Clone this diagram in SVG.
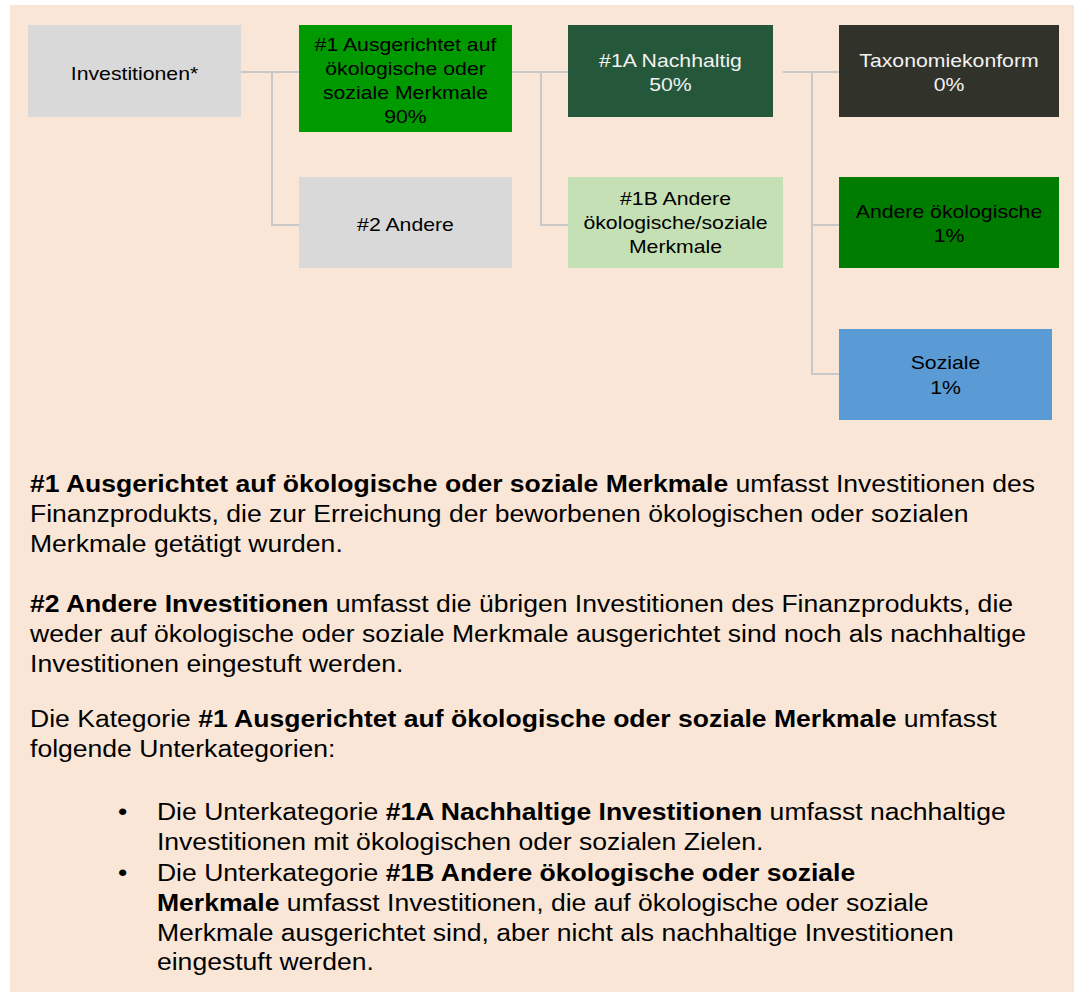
<svg xmlns="http://www.w3.org/2000/svg" width="1074" height="993" viewBox="0 0 1074 993">
  <style>
    .box-text { font-family: "Liberation Sans", Arial, sans-serif; font-size: 18.8px; text-anchor: middle; fill: #000; }
    .light { fill: #f2f2f2; }
    .body { font-family: "Liberation Sans", Arial, sans-serif; font-size: 23.5px; fill: #000; }
    .b { font-weight: bold; }
    .conn { fill: none; stroke: #c8c8c8; stroke-width: 2; }
  </style>
  <rect x="0" y="0" width="1074" height="993" fill="#ffffff"/>
  <rect x="10" y="5" width="1064" height="987" fill="#f9e6d6"/>

  <!-- connectors -->
  <g id="connectors" class="conn">
    <path d="M241,72 H299 M272,72 V225 H299"/>
    <path d="M512,72 H568 M541,72 V225 H568"/>
    <path d="M783,72 H839 M812,72 V374 H839 M812,225 H839"/>
  </g>

  <!-- nodes -->
  <g id="investitionen">
    <rect x="28" y="25" width="213" height="92" fill="#d9d9d9"/>
    <text class="box-text" transform="translate(134.5,80) scale(1.13,1)">Investitionen*</text>
  </g>
  <g id="n1-ausgerichtet">
    <rect x="299" y="25" width="213" height="107" fill="#009a00"/>
    <g class="box-text">
      <text transform="translate(405.5,51) scale(1.13,1)">#1 Ausgerichtet auf</text>
      <text transform="translate(405.5,75) scale(1.13,1)">ökologische oder</text>
      <text transform="translate(405.5,99) scale(1.13,1)">soziale Merkmale</text>
      <text transform="translate(405.5,123) scale(1.13,1)">90%</text>
    </g>
  </g>
  <g id="n2-andere">
    <rect x="299" y="177" width="213" height="91" fill="#d9d9d9"/>
    <text class="box-text" transform="translate(405.5,231) scale(1.13,1)">#2 Andere</text>
  </g>
  <g id="n1a-nachhaltig">
    <rect x="568" y="25" width="205" height="92" fill="#25573a"/>
    <text class="box-text light" transform="translate(670.5,67) scale(1.13,1)">#1A Nachhaltig</text>
    <text class="box-text light" transform="translate(670.5,91) scale(1.13,1)">50%</text>
  </g>
  <g id="n1b-andere">
    <rect x="568" y="177" width="215" height="91" fill="#c5e0b4"/>
    <text class="box-text" transform="translate(675.5,205) scale(1.13,1)">#1B Andere</text>
    <text class="box-text" transform="translate(675.5,229) scale(1.13,1)">ökologische/soziale</text>
    <text class="box-text" transform="translate(675.5,253) scale(1.13,1)">Merkmale</text>
  </g>
  <g id="taxonomiekonform">
    <rect x="839" y="25" width="220" height="92" fill="#31322a"/>
    <text class="box-text light" transform="translate(949,67) scale(1.13,1)">Taxonomiekonform</text>
    <text class="box-text light" transform="translate(949,91) scale(1.13,1)">0%</text>
  </g>
  <g id="andere-oekologische">
    <rect x="839" y="177" width="220" height="91" fill="#007c00"/>
    <text class="box-text" transform="translate(949,218) scale(1.13,1)">Andere ökologische</text>
    <text class="box-text" transform="translate(949,242) scale(1.13,1)">1%</text>
  </g>
  <g id="soziale">
    <rect x="839" y="329" width="213" height="91" fill="#5b9bd5"/>
    <text class="box-text" transform="translate(945.5,369) scale(1.13,1)">Soziale</text>
    <text class="box-text" transform="translate(945.5,394) scale(1.13,1)">1%</text>
  </g>

  <!-- explanatory text -->
  <g id="legend" class="body" transform="scale(1.13,1)">
    <text x="26.55" y="492"><tspan class="b">#1 Ausgerichtet auf ökologische oder soziale Merkmale</tspan> umfasst Investitionen des</text>
    <text x="26.55" y="522">Finanzprodukts, die zur Erreichung der beworbenen ökologischen oder sozialen</text>
    <text x="26.55" y="552">Merkmale getätigt wurden.</text>

    <text x="26.55" y="612"><tspan class="b">#2 Andere Investitionen</tspan> umfasst die übrigen Investitionen des Finanzprodukts, die</text>
    <text x="26.55" y="642">weder auf ökologische oder soziale Merkmale ausgerichtet sind noch als nachhaltige</text>
    <text x="26.55" y="672">Investitionen eingestuft werden.</text>

    <text x="26.55" y="727">Die Kategorie <tspan class="b">#1 Ausgerichtet auf ökologische oder soziale Merkmale</tspan> umfasst</text>
    <text x="26.55" y="757">folgende Unterkategorien:</text>

    <text x="104.4" y="820">•</text>
    <text x="138.9" y="820">Die Unterkategorie <tspan class="b">#1A Nachhaltige Investitionen</tspan> umfasst nachhaltige</text>
    <text x="138.9" y="850">Investitionen mit ökologischen oder sozialen Zielen.</text>
    <text x="104.4" y="881">•</text>
    <text x="138.9" y="881">Die Unterkategorie <tspan class="b">#1B Andere ökologische oder soziale</tspan></text>
    <text x="138.9" y="911"><tspan class="b">Merkmale</tspan> umfasst Investitionen, die auf ökologische oder soziale</text>
    <text x="138.9" y="941">Merkmale ausgerichtet sind, aber nicht als nachhaltige Investitionen</text>
    <text x="138.9" y="970">eingestuft werden.</text>
  </g>
</svg>
